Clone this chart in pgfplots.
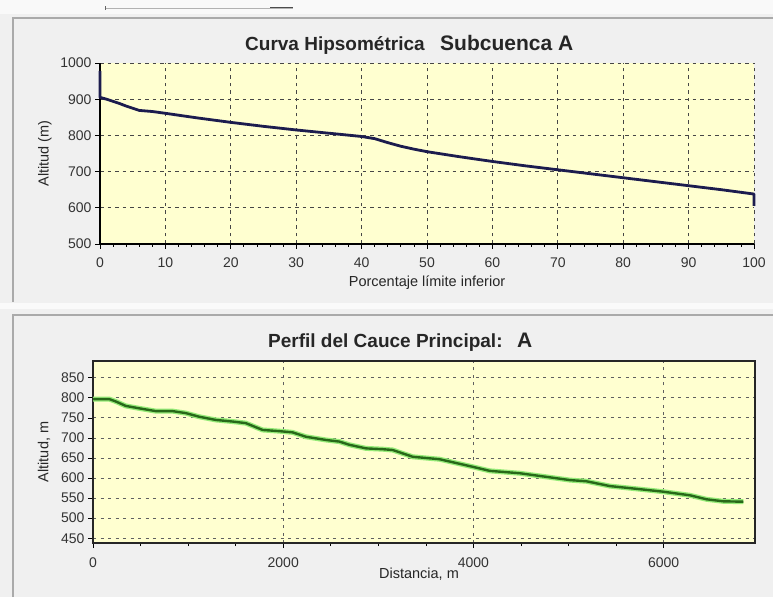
\documentclass[border=0pt]{standalone}
\usepackage{fontspec}
\setmainfont{Liberation Sans}
\usepackage{pgfplots}
\pgfplotsset{compat=1.18}
\definecolor{panelbg}{RGB}{240,240,240}
\definecolor{panelline}{RGB}{170,170,170}
\definecolor{plotbg}{RGB}{255,255,208}
\definecolor{navy}{RGB}{28,28,78}
\definecolor{dkgreen}{RGB}{40,105,25}
\definecolor{ltgreen}{RGB}{150,235,120}
\definecolor{gridc}{RGB}{70,70,70}
\pgfplotsset{
  common/.style={
    anchor=south west, scale only axis,
    /pgf/number format/assume math mode=true,
    /pgf/number format/1000 sep={},
    scaled ticks=false,
    ticklabel style={font=\fontsize{14}{16}\selectfont, text=black!80},
    label style={font=\fontsize{14.5}{17}\selectfont, text=black!85},
    tick align=outside, major tick length=5pt, minor tick length=3pt,
    tick style={black, line width=0.8pt},
    xtick pos=left, ytick pos=left,
    grid=major,
    axis background/.style={fill=plotbg},
    clip=false,
  }
}
\begin{document}
\begin{tikzpicture}
\useasboundingbox (0,0) rectangle (773pt,597pt);
\fill[panelbg] (0,0) rectangle (773pt,597pt);
% top strip
\fill[white!60!panelbg] (0,583pt) rectangle (773pt,597pt);
\draw[gray!60, line width=0.6pt] (105pt,589pt) -- (293pt,589pt);
\draw[black!70, line width=1pt] (270pt,589pt) -- (293pt,589pt);
\draw[black!60, line width=1pt] (105pt,587pt) -- (105pt,591pt);
% panel borders
\draw[panelline, line width=1.2pt] (13pt,0) -- (13pt,282pt) -- (773pt,282pt);
\draw[panelline, line width=1.2pt] (13pt,295pt) -- (13pt,579pt) -- (773pt,579pt);
\fill[white!70!panelbg] (0,288pt) rectangle (773pt,294pt);

% ---------- Top chart ----------
\begin{axis}[common,
  at={(100pt,353pt)}, width=654pt, height=181pt,
  xmin=0, xmax=100, ymin=500, ymax=1000,
  xtick={0,10,...,100}, ytick={500,600,...,1000},
  minor x tick num=4,
  axis x line*=bottom, axis y line*=left,
  axis line style={-, line width=2.2pt, black},
  major grid style={gridc, line width=0.9pt, dash pattern=on 3.5pt off 4pt},
  xticklabel style={yshift=-5pt},
  xlabel={Porcentaje límite inferior},
  ylabel={Altitud (m)},
  xlabel style={at={(axis description cs:0.5,0)}, anchor=center, yshift=-39pt},
  ylabel style={at={(axis description cs:-0.0841,0.5)}, anchor=center},
]
\addplot[navy, line width=2.8pt, line join=round] coordinates {
(0,978) (0,905) (1,900) (2,894) (3,888) (4,881) (5,875) (6,869) (8,866)
(10,861) (15,848) (20,836) (25,825) (30,815) (35,806) (40,797) (42,791)
(44,780) (46,770) (48,762) (50,755) (55,741) (60,728) (65,716) (70,705)
(75,694) (80,683) (85,672) (90,661) (95,650) (100,638) (100,605)
};
\end{axis}
\node[anchor=base west, font=\bfseries\fontsize{19}{22}\selectfont, text=black!85, inner sep=0] at (245pt,546pt) {Curva Hipsométrica};
\node[anchor=base west, font=\bfseries\fontsize{21}{24}\selectfont, text=black!85, inner sep=0] at (440pt,546pt) {Subcuenca A};

% ---------- Bottom chart ----------
\begin{axis}[common,
  at={(93pt,54pt)}, width=662pt, height=182pt,
  xmin=0, xmax=6960, ymin=438, ymax=892,
  xtick={0,2000,4000,6000}, ytick={450,500,...,850},
  minor x tick num=3,
  axis line style={line width=1.8pt, black!85},
  major grid style={gray!75!black, line width=0.9pt, dash pattern=on 3pt off 4.5pt},
  xticklabel style={yshift=-6pt},
  xlabel={Distancia, m},
  ylabel={Altitud, m},
  xlabel style={at={(axis description cs:0.4924,0)}, anchor=center, yshift=-31pt},
  ylabel style={at={(axis description cs:-0.074,0.5)}, anchor=center},
]
\addplot[ltgreen, line width=5pt, line join=round] coordinates {
(0,797) (170,797) (240,791) (344,780) (484,774) (660,767) (835,767) (976,762)
(1116,753) (1291,745) (1467,741) (1607,737) (1783,720) (1958,717) (2098,714)
(2239,703) (2450,695) (2590,691) (2695,683) (2871,674) (3046,672) (3150,670)
(3363,653) (3643,647) (3994,628) (4170,618) (4486,612) (4767,603) (5012,595)
(5188,592) (5434,580) (5679,574) (5995,566) (6276,557) (6451,547) (6627,542) (6837,541)
};
\addplot[dkgreen, line width=2.4pt, line join=round] coordinates {
(0,797) (170,797) (240,791) (344,780) (484,774) (660,767) (835,767) (976,762)
(1116,753) (1291,745) (1467,741) (1607,737) (1783,720) (1958,717) (2098,714)
(2239,703) (2450,695) (2590,691) (2695,683) (2871,674) (3046,672) (3150,670)
(3363,653) (3643,647) (3994,628) (4170,618) (4486,612) (4767,603) (5012,595)
(5188,592) (5434,580) (5679,574) (5995,566) (6276,557) (6451,547) (6627,542) (6837,541)
};
\end{axis}
\node[anchor=base west, font=\bfseries\fontsize{19}{22}\selectfont, text=black!85, inner sep=0] at (268pt,249pt) {Perfil del Cauce Principal:};
\node[anchor=base west, font=\bfseries\fontsize{21}{24}\selectfont, text=black!85, inner sep=0] at (517pt,249pt) {A};
\end{tikzpicture}
\end{document}
